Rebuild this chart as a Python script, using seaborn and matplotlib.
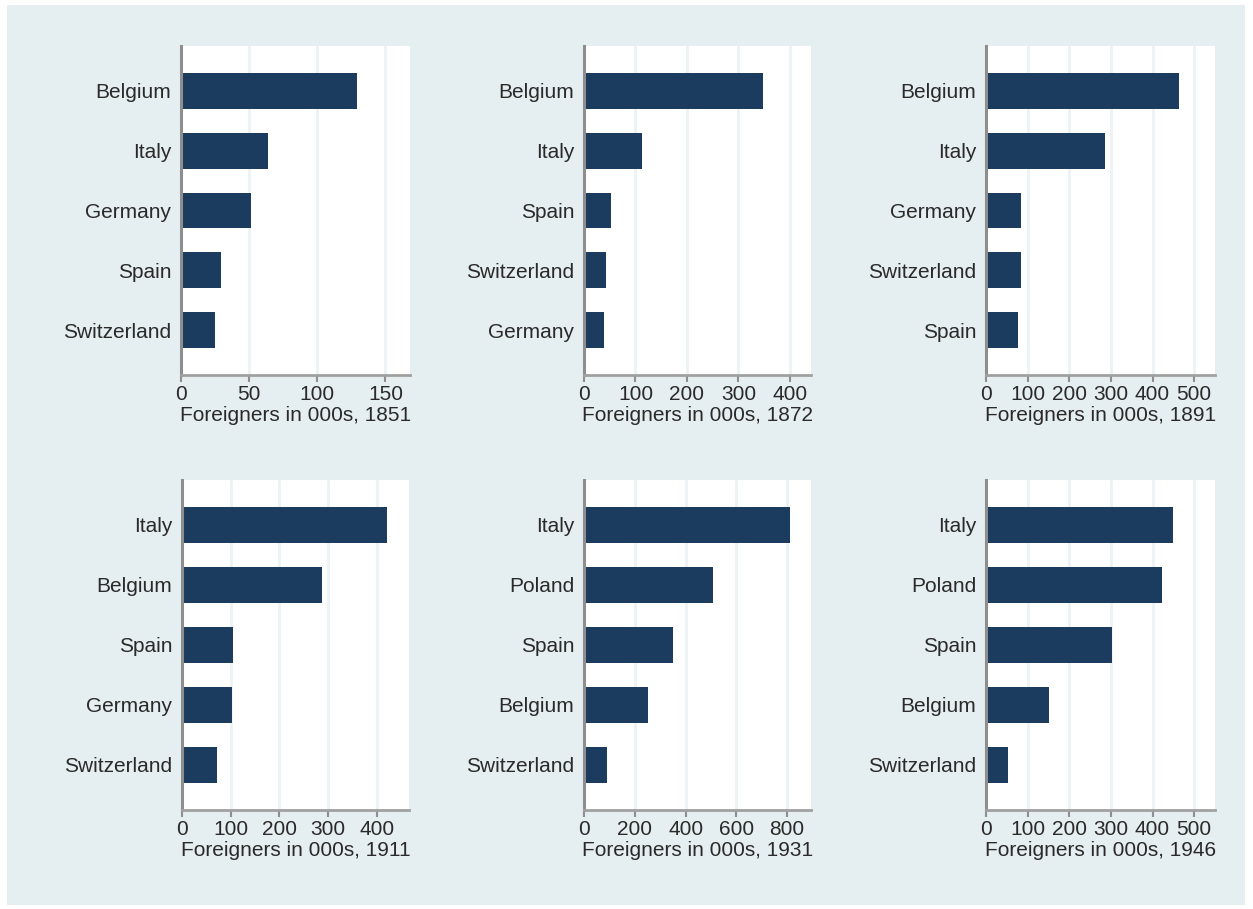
import matplotlib
matplotlib.use("Agg")
import matplotlib.pyplot as plt
import seaborn as sns
from matplotlib.patches import Rectangle

# Top five foreign nationalities in France, thousands
countries_1851 = ["Belgium", "Italy", "Germany", "Spain", "Switzerland"]
values_1851 = [129, 64, 51, 29, 25]

countries_1872 = ["Belgium", "Italy", "Spain", "Switzerland", "Germany"]
values_1872 = [348, 113, 52, 42, 38]

countries_1891 = ["Belgium", "Italy", "Germany", "Switzerland", "Spain"]
values_1891 = [463, 286, 84, 84, 78]

countries_1911 = ["Italy", "Belgium", "Spain", "Germany", "Switzerland"]
values_1911 = [420, 287, 104, 102, 72]

countries_1931 = ["Italy", "Poland", "Spain", "Belgium", "Switzerland"]
values_1931 = [810, 510, 352, 252, 92]

countries_1946 = ["Italy", "Poland", "Spain", "Belgium", "Switzerland"]
values_1946 = [448, 423, 303, 152, 54]

years = ["1851", "1872", "1891", "1911", "1931", "1946"]
panels = [
    (countries_1851, values_1851, [0, 50, 100, 150], 168),
    (countries_1872, values_1872, [0, 100, 200, 300, 400], 441),
    (countries_1891, values_1891, [0, 100, 200, 300, 400, 500], 550),
    (countries_1911, values_1911, [0, 100, 200, 300, 400], 466),
    (countries_1931, values_1931, [0, 200, 400, 600, 800], 894),
    (countries_1946, values_1946, [0, 100, 200, 300, 400, 500], 550),
]

BAR = "#1B3C5F"
BG = "#E5EEF0"
AXIS = "#8E8E8E"
GRID = "#EDF2F4"
TXT = "#2A2A2A"
FS = 15

sns.set_theme(style="white")
plt.rcParams["font.family"] = ["Liberation Sans", "DejaVu Sans"]

W, H = 1253, 909
fig = plt.figure(figsize=(W / 100, H / 100), dpi=100, facecolor="white")
fig.patches.append(Rectangle((7 / W, 1 - 905 / H), (1245 - 7) / W, (905 - 5) / H,
                             transform=fig.transFigure, facecolor=BG,
                             edgecolor="none", zorder=-10))

# panel boxes in pixels: left, right, top, bottom
boxes = [
    (181, 410, 46, 375), (584, 811, 46, 375), (986, 1215, 46, 375),
    (182, 409, 480, 810), (584, 811, 480, 810), (986, 1215, 480, 810),
]

for (cats, vals, ticks, xmax), year, (l, r, t, b) in zip(panels, years, boxes):
    ax = fig.add_axes([l / W, 1 - b / H, (r - l) / W, (b - t) / H])
    ax.set_facecolor("white")
    ax.set_axisbelow(True)
    for tk in ticks[1:]:
        ax.axvline(tk, color=GRID, lw=2, zorder=0)
    sns.barplot(x=vals, y=cats, orient="h", color=BAR, width=0.6,
                saturation=1, linewidth=0, ax=ax, zorder=2)
    ax.set_xlim(0, xmax)
    ax.set_ylim(4.75, -0.75)
    ax.set_xticks(ticks)
    ax.set_xticklabels([str(v) for v in ticks])
    ax.set_xlabel(f"Foreigners in 000s, {year}", fontsize=FS, color=TXT,
                  labelpad=2)
    ax.set_ylabel("")
    for s in ["top", "right"]:
        ax.spines[s].set_visible(False)
    ax.spines["left"].set_color(AXIS)
    ax.spines["left"].set_linewidth(2.2)
    ax.spines["bottom"].set_color("#A0A0A0")
    ax.spines["bottom"].set_linewidth(2.0)
    ax.tick_params(axis="x", length=5, width=1.5, color=AXIS, pad=2,
                   labelsize=FS, labelcolor=TXT, bottom=True)
    ax.tick_params(axis="y", length=0, pad=7, labelsize=FS, labelcolor=TXT)

fig.savefig("out.png", dpi=100, facecolor="white")
